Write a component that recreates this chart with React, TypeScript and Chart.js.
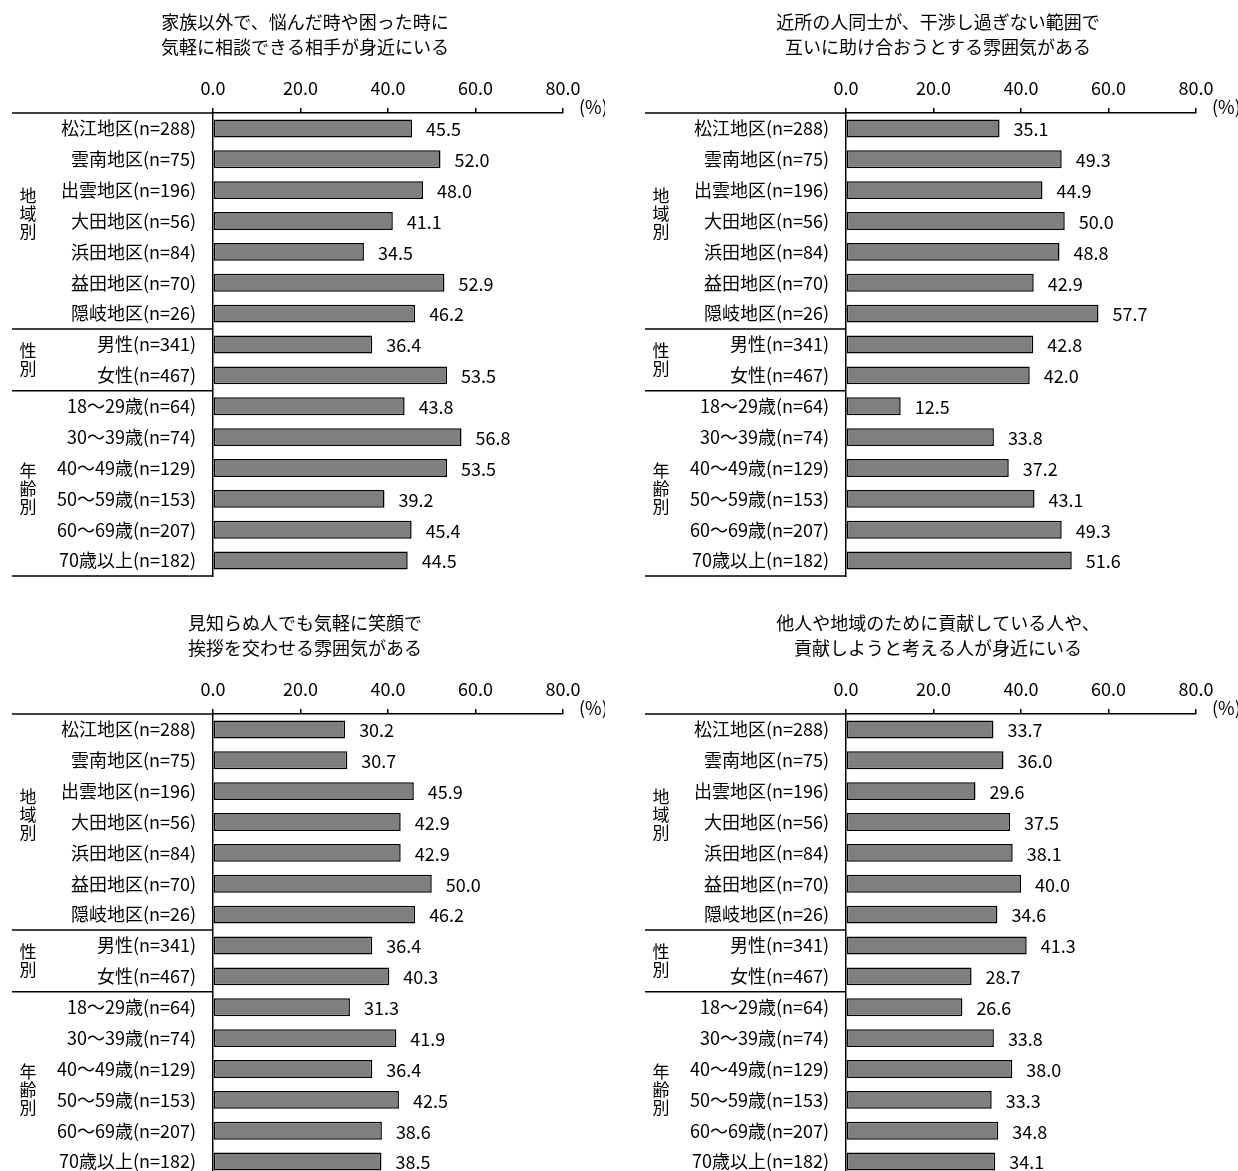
import { useEffect, useRef } from "react";
import { Chart, registerables } from "chart.js";

Chart.register(...registerables);

const FONT = "'Noto Sans CJK JP', 'Noto Sans', sans-serif";

const categories = [
  "松江地区(n=288)",
  "雲南地区(n=75)",
  "出雲地区(n=196)",
  "大田地区(n=56)",
  "浜田地区(n=84)",
  "益田地区(n=70)",
  "隠岐地区(n=26)",
  "男性(n=341)",
  "女性(n=467)",
  "18～29歳(n=64)",
  "30～39歳(n=74)",
  "40～49歳(n=129)",
  "50～59歳(n=153)",
  "60～69歳(n=207)",
  "70歳以上(n=182)",
];

const groupLabels = ["地域別", "性別", "年齢別"];
const groupFirst = [0, 7, 9];
const groupLast = [6, 8, 14];

const axisMin = 0;
const axisMax = 80;
const axisStep = 20;
const unitLabel = "(%)";

const title1 = ["家族以外で、悩んだ時や困った時に", "気軽に相談できる相手が身近にいる"];
const values1 = [45.5, 52.0, 48.0, 41.1, 34.5, 52.9, 46.2, 36.4, 53.5, 43.8, 56.8, 53.5, 39.2, 45.4, 44.5];

const title2 = ["近所の人同士が、干渉し過ぎない範囲で", "互いに助け合おうとする雰囲気がある"];
const values2 = [35.1, 49.3, 44.9, 50.0, 48.8, 42.9, 57.7, 42.8, 42.0, 12.5, 33.8, 37.2, 43.1, 49.3, 51.6];

const title3 = ["見知らぬ人でも気軽に笑顔で", "挨拶を交わせる雰囲気がある"];
const values3 = [30.2, 30.7, 45.9, 42.9, 42.9, 50.0, 46.2, 36.4, 40.3, 31.3, 41.9, 36.4, 42.5, 38.6, 38.5];

const title4 = ["他人や地域のために貢献している人や、", "貢献しようと考える人が身近にいる"];
const values4 = [33.7, 36.0, 29.6, 37.5, 38.1, 40.0, 34.6, 41.3, 28.7, 26.6, 33.8, 38.0, 33.3, 34.8, 34.1];

const CW = 605;
const CH = 585;
// small vertical shifts of the stacked group captions (layout only)
const groupCaptionShift = [-7, 0, 5];

const decorPlugin = {
  id: "decor",
  afterDatasetsDraw(chart: any) {
    const ctx = chart.ctx;
    const meta = chart.getDatasetMeta(0);
    const vals = chart.data.datasets[0].data as number[];
    ctx.save();
    ctx.font = `18px ${FONT}`;
    ctx.fillStyle = "#000";
    ctx.textAlign = "left";
    ctx.textBaseline = "middle";
    meta.data.forEach((bar: any, i: number) => {
      ctx.fillText(vals[i].toFixed(1), bar.x + 14, bar.y + 1);
    });
    ctx.restore();
  },
  afterDraw(chart: any) {
    const { ctx, chartArea, scales } = chart;
    const ys = scales.y;
    const opts = chart.options.plugins.decor;
    ctx.save();
    ctx.font = `18px ${FONT}`;
    ctx.fillStyle = "#000";
    ctx.textAlign = "center";
    ctx.textBaseline = "middle";
    opts.title.forEach((t: string, i: number) => ctx.fillText(t, 305, 22 + i * 25));
    ctx.textAlign = "left";
    ctx.fillText(unitLabel, chartArea.right + 16, chartArea.top - 6);
    ctx.strokeStyle = "#000";
    ctx.lineWidth = 1.5;
    const x0 = 12;
    const xl = chartArea.left;
    const hline = (y: number) => {
      ctx.beginPath();
      ctx.moveTo(x0, y);
      ctx.lineTo(xl, y);
      ctx.stroke();
    };
    hline(chartArea.top);
    hline(chartArea.bottom);
    for (let g = 0; g < groupLast.length - 1; g++) {
      const yb = (ys.getPixelForValue(groupLast[g]) + ys.getPixelForValue(groupLast[g] + 1)) / 2;
      hline(yb);
    }
    ctx.font = `17px ${FONT}`;
    ctx.textAlign = "center";
    groupLabels.forEach((lab, g) => {
      const yc =
        (ys.getPixelForValue(groupFirst[g]) + ys.getPixelForValue(groupLast[g])) / 2 + groupCaptionShift[g];
      const chars = Array.from(lab);
      chars.forEach((c, j) => {
        ctx.fillText(c, 28, yc + (j - (chars.length - 1) / 2) * 18);
      });
    });
    ctx.restore();
  },
};

function Panel({ title, values, left, top }: { title: string[]; values: number[]; left: number; top: number }) {
  const ref = useRef<HTMLCanvasElement>(null);
  useEffect(() => {
    if (!ref.current) return;
    Chart.defaults.font.family = FONT;
    Chart.defaults.color = "#000";
    const chart = new Chart(ref.current, {
      type: "bar",
      data: {
        labels: categories,
        datasets: [
          {
            data: values,
            backgroundColor: "#7f7f7f",
            borderColor: "#000",
            borderWidth: 1.5,
            borderSkipped: false,
            barPercentage: 0.58,
            categoryPercentage: 1,
          },
        ],
      },
      options: {
        indexAxis: "y",
        responsive: false,
        animation: false,
        events: [],
        layout: { padding: { left: 0, right: CW - 563, top: 60, bottom: CH - 576 } },
        plugins: {
          legend: { display: false },
          tooltip: { enabled: false },
          title: { display: false },
          decor: { title },
        } as any,
        scales: {
          x: {
            position: "top",
            min: axisMin,
            max: axisMax,
            ticks: {
              stepSize: axisStep,
              padding: 9,
              font: { size: 18, family: FONT },
              color: "#000",
              callback: (v: any) => Number(v).toFixed(1),
            },
            grid: { drawOnChartArea: false, drawTicks: true, tickLength: 5, color: "#000", lineWidth: 1.5 },
            border: { display: true, color: "#000", width: 1.5 },
            afterFit: (s: any) => {
              s.height = 113 - 60;
              s.paddingLeft = 0;
              s.paddingRight = 0;
            },
          },
          y: {
            position: "left",
            ticks: {
              padding: 17,
              font: { size: 18, family: FONT },
              color: "#000",
              autoSkip: false,
            },
            grid: { display: false, drawTicks: false, tickLength: 0 },
            border: { display: true, color: "#000", width: 1.5 },
            afterFit: (s: any) => {
              s.width = 213;
              s.paddingTop = 0;
              s.paddingBottom = 0;
            },
          },
        },
      } as any,
      plugins: [decorPlugin],
    });
    return () => chart.destroy();
  }, [title, values]);
  return (
    <canvas
      ref={ref}
      width={CW}
      height={CH}
      style={{ position: "absolute", left, top, width: CW, height: CH, display: "block" }}
    />
  );
}

export default function App() {
  return (
    <div
      style={{
        position: "absolute",
        left: 0,
        top: 0,
        width: 1238,
        height: 1171,
        overflow: "hidden",
        background: "#fff",
      }}
    >
      <Panel title={title1} values={values1} left={0} top={0} />
      <Panel title={title2} values={values2} left={633} top={0} />
      <Panel title={title3} values={values3} left={0} top={601} />
      <Panel title={title4} values={values4} left={633} top={601} />
    </div>
  );
}
